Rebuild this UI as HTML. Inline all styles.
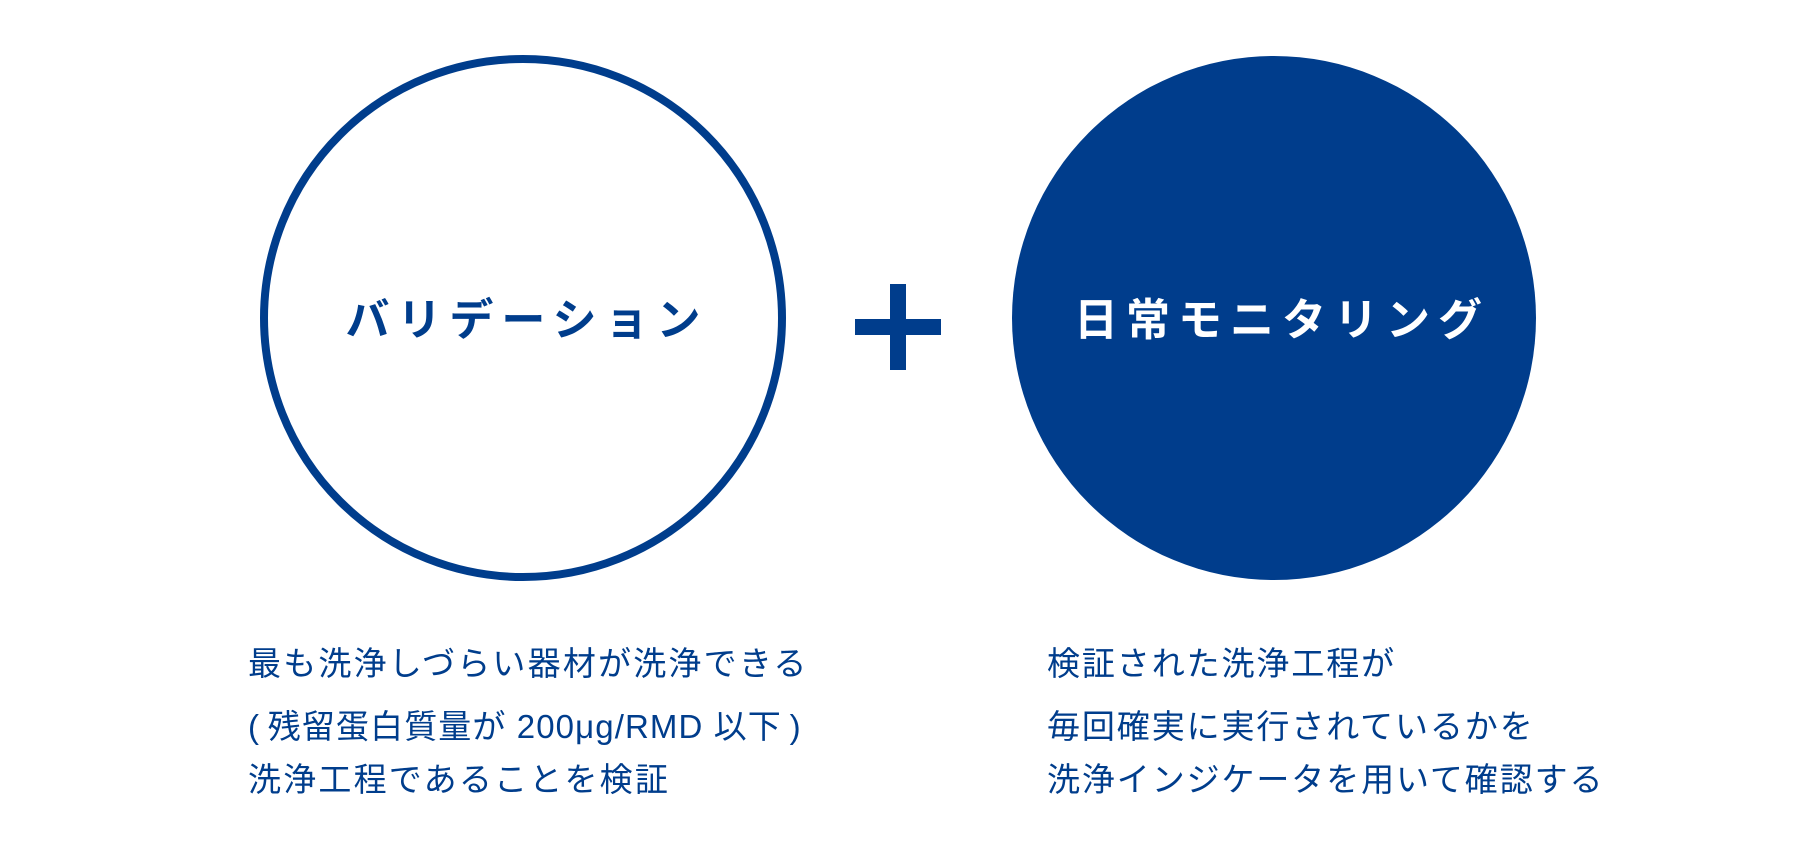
<!DOCTYPE html>
<html><head><meta charset="utf-8"><style>
body{margin:0;width:1800px;height:841px;background:#fff;position:relative;overflow:hidden;font-family:"Liberation Sans","Noto Sans CJK JP",sans-serif;color:#003d8c}
.c{position:absolute;border-radius:50%;box-sizing:border-box}
.h{position:absolute;font-weight:bold;font-size:44px;letter-spacing:8px;line-height:50px;white-space:nowrap;text-align:center}
.t{position:absolute;font-size:33px;line-height:33px;white-space:nowrap;letter-spacing:2.2px}
</style></head><body>
<div class="c" style="left:260px;top:55px;width:526px;height:526px;border:8px solid #003d8c"></div>
<div class="c" style="left:1012px;top:56px;width:524px;height:524px;background:#003d8c"></div>
<div style="position:absolute;left:855px;top:319px;width:86px;height:16px;background:#003d8c"></div>
<div style="position:absolute;left:890px;top:284px;width:16px;height:86px;background:#003d8c"></div>
<div class="h" style="left:318px;width:418px;top:296px">バリデーション</div>
<div class="h" style="left:1072px;width:420px;top:296px;color:#fff">日常モニタリング</div>
<div class="t" style="left:248px;top:647px">
<div style="height:63px">最も洗浄しづらい器材が洗浄できる</div>
<div style="height:53px;letter-spacing:1.1px">(&thinsp;残留蛋白質量が 200μg/RMD 以下&thinsp;)</div>
<div>洗浄工程であることを検証</div>
</div>
<div class="t" style="left:1047px;top:647px;letter-spacing:1.9px">
<div style="height:63px">検証された洗浄工程が</div>
<div style="height:53px">毎回確実に実行されているかを</div>
<div>洗浄インジケータを用いて確認する</div>
</div>
</body></html>
